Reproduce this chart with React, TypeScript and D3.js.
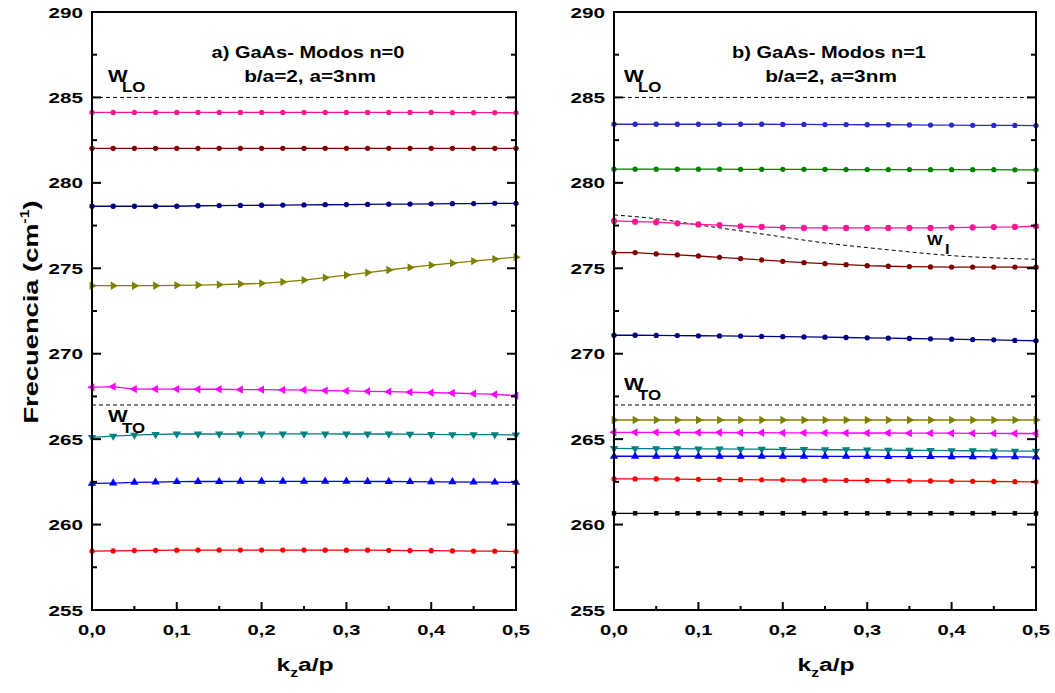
import React from "react";
import * as d3 from "d3";

// ---------- data ----------
const kz = [0, 0.025, 0.05, 0.075, 0.1, 0.125, 0.15, 0.175, 0.2, 0.225, 0.25, 0.275, 0.3, 0.325, 0.35, 0.375, 0.4, 0.425, 0.45, 0.475, 0.5];

// Panel a) n=0
const a_pink = [284.12, 284.12, 284.12, 284.12, 284.12, 284.12, 284.12, 284.12, 284.12, 284.12, 284.12, 284.12, 284.12, 284.12, 284.12, 284.12, 284.12, 284.11, 284.11, 284.11, 284.1];
const a_darkred = [282.02, 282.02, 282.02, 282.02, 282.02, 282.02, 282.02, 282.02, 282.02, 282.02, 282.02, 282.02, 282.02, 282.02, 282.02, 282.02, 282.02, 282.02, 282.02, 282.02, 282.02];
const a_navy = [278.63, 278.63, 278.63, 278.63, 278.63, 278.66, 278.67, 278.68, 278.69, 278.7, 278.71, 278.72, 278.73, 278.74, 278.75, 278.76, 278.77, 278.78, 278.79, 278.8, 278.8];
const a_olive = [273.98, 273.98, 273.98, 273.98, 274.0, 274.02, 274.04, 274.08, 274.12, 274.2, 274.31, 274.45, 274.6, 274.75, 274.9, 275.05, 275.18, 275.3, 275.42, 275.54, 275.65];
const a_magenta = [268.03, 268.07, 267.93, 267.93, 267.93, 267.92, 267.92, 267.9, 267.9, 267.88, 267.88, 267.84, 267.82, 267.8, 267.78, 267.75, 267.72, 267.7, 267.66, 267.62, 267.55];
const a_teal = [265.1, 265.18, 265.24, 265.28, 265.3, 265.3, 265.3, 265.3, 265.31, 265.31, 265.31, 265.31, 265.3, 265.3, 265.3, 265.29, 265.28, 265.27, 265.26, 265.26, 265.25];
const a_blue = [262.41, 262.43, 262.47, 262.49, 262.51, 262.52, 262.52, 262.53, 262.53, 262.53, 262.53, 262.53, 262.53, 262.52, 262.52, 262.51, 262.5, 262.5, 262.49, 262.48, 262.47];
const a_red = [258.44, 258.46, 258.48, 258.49, 258.5, 258.51, 258.51, 258.51, 258.51, 258.51, 258.51, 258.5, 258.5, 258.5, 258.49, 258.48, 258.47, 258.46, 258.45, 258.44, 258.42];

// Panel b) n=1
const b_blue = [283.43, 283.43, 283.43, 283.43, 283.43, 283.43, 283.43, 283.43, 283.42, 283.42, 283.41, 283.41, 283.4, 283.4, 283.39, 283.38, 283.38, 283.37, 283.36, 283.36, 283.35];
const b_green = [280.8, 280.8, 280.8, 280.8, 280.8, 280.8, 280.79, 280.79, 280.79, 280.79, 280.79, 280.78, 280.78, 280.78, 280.78, 280.77, 280.77, 280.77, 280.77, 280.76, 280.76];
const b_pink = [277.77, 277.73, 277.7, 277.63, 277.57, 277.53, 277.46, 277.42, 277.38, 277.36, 277.36, 277.36, 277.36, 277.36, 277.36, 277.36, 277.38, 277.39, 277.41, 277.42, 277.46];
const b_darkred = [275.92, 275.92, 275.84, 275.78, 275.72, 275.64, 275.57, 275.49, 275.41, 275.33, 275.27, 275.21, 275.15, 275.12, 275.1, 275.08, 275.07, 275.07, 275.07, 275.07, 275.06];
const b_navy = [271.08, 271.08, 271.07, 271.06, 271.05, 271.04, 271.03, 271.01, 271.0, 270.98, 270.97, 270.95, 270.93, 270.91, 270.89, 270.87, 270.85, 270.83, 270.81, 270.78, 270.76];
const b_olive = [266.12, 266.12, 266.12, 266.12, 266.12, 266.12, 266.12, 266.12, 266.12, 266.12, 266.12, 266.12, 266.12, 266.12, 266.12, 266.12, 266.12, 266.12, 266.12, 266.12, 266.12];
const b_magenta = [265.4, 265.4, 265.4, 265.4, 265.39, 265.39, 265.38, 265.38, 265.37, 265.37, 265.37, 265.36, 265.36, 265.36, 265.35, 265.35, 265.35, 265.34, 265.34, 265.33, 265.33];
const b_teal = [264.46, 264.44, 264.44, 264.44, 264.43, 264.43, 264.41, 264.41, 264.4, 264.4, 264.38, 264.38, 264.37, 264.36, 264.35, 264.34, 264.33, 264.32, 264.31, 264.3, 264.3];
const b_blue2 = [264.0, 264.0, 264.0, 264.0, 264.0, 264.0, 264.0, 264.0, 264.0, 264.0, 263.99, 263.99, 263.99, 263.98, 263.98, 263.98, 263.97, 263.97, 263.96, 263.96, 263.95];
const b_red = [262.67, 262.67, 262.67, 262.66, 262.65, 262.64, 262.63, 262.62, 262.61, 262.6, 262.6, 262.59, 262.58, 262.57, 262.56, 262.55, 262.54, 262.53, 262.52, 262.51, 262.5];
const b_black = [260.66, 260.66, 260.66, 260.66, 260.66, 260.66, 260.66, 260.66, 260.66, 260.66, 260.66, 260.66, 260.66, 260.66, 260.66, 260.66, 260.66, 260.66, 260.66, 260.66, 260.65];

// w_I dashed curve (panel b)
const kzI = [0, 0.05, 0.1, 0.15, 0.2, 0.25, 0.3, 0.35, 0.4, 0.45, 0.5];
const wI = [278.12, 277.9, 277.54, 277.19, 276.83, 276.48, 276.21, 275.96, 275.74, 275.61, 275.53];

const wLO = 285;
const wTO = 267;

const yTicks = [255, 260, 265, 270, 275, 280, 285, 290];
const yMinor = [257.5, 262.5, 267.5, 272.5, 277.5, 282.5, 287.5];
const xTicks = [0, 0.1, 0.2, 0.3, 0.4, 0.5];
const xTickLabels = ["0,0", "0,1", "0,2", "0,3", "0,4", "0,5"];
const xMinor = [0.05, 0.15, 0.25, 0.35, 0.45];

type Series = { v: number[]; color: string; shape: string; size?: number };

const seriesA: Series[] = [
  { v: a_pink, color: "#ff1493", shape: "circle" },
  { v: a_darkred, color: "#800000", shape: "circle" },
  { v: a_navy, color: "#000080", shape: "circle" },
  { v: a_olive, color: "#808000", shape: "right" },
  { v: a_magenta, color: "#ff00ff", shape: "left" },
  { v: a_teal, color: "#008080", shape: "down" },
  { v: a_blue, color: "#0000ff", shape: "up" },
  { v: a_red, color: "#ff0000", shape: "circle" },
];

const seriesB: Series[] = [
  { v: b_blue, color: "#2a2ac8", shape: "circle" },
  { v: b_green, color: "#008000", shape: "circle" },
  { v: b_pink, color: "#ff1493", shape: "circle", size: 30 },
  { v: b_darkred, color: "#800000", shape: "circle" },
  { v: b_navy, color: "#000080", shape: "circle" },
  { v: b_olive, color: "#808000", shape: "right" },
  { v: b_magenta, color: "#ff00ff", shape: "left" },
  { v: b_teal, color: "#008080", shape: "down" },
  { v: b_blue2, color: "#0000ff", shape: "up" },
  { v: b_red, color: "#ff0000", shape: "circle" },
  { v: b_black, color: "#000000", shape: "square" },
];

const FONT = "'Liberation Sans', Arial, sans-serif";

function T({ x, y, fs, sx = 1, anchor = "start", children }: any) {
  return (
    <text
      transform={`translate(${x},${y}) scale(${sx},1)`}
      fontSize={fs}
      fontWeight="bold"
      fontFamily={FONT}
      textAnchor={anchor}
      fill="#000"
    >
      {children}
    </text>
  );
}

function marker(shape: string, size?: number) {
  if (shape === "circle") return { d: d3.symbol().type(d3.symbolCircle).size(size ?? 22)()!, rot: 0 };
  if (shape === "square") return { d: d3.symbol().type(d3.symbolSquare).size(size ?? 20)()!, rot: 0 };
  const d = d3.symbol().type(d3.symbolTriangle).size(size ?? 30)()!;
  const rot = shape === "up" ? 0 : shape === "right" ? 90 : shape === "down" ? 180 : -90;
  return { d, rot };
}

function Panel({ x0, x1, series, title, sub, extra }: any) {
  const top = 12, bottom = 610;
  const x = d3.scaleLinear().domain([0, 0.5]).range([x0, x1]);
  const y = d3.scaleLinear().domain([255, 290]).range([bottom, top]);
  const line = d3.line<number>().x((_, i) => x(kz[i])).y((d) => y(d));
  return (
    <g>
      {[wLO, wTO].map((w) => (
        <line key={w} x1={x0} x2={x1} y1={y(w)} y2={y(w)} stroke="#000" strokeWidth={1} strokeDasharray="4,3" />
      ))}
      {extra && extra(x, y)}
      {series.map((s: Series, i: number) => {
        const m = marker(s.shape, s.size);
        return (
          <g key={i}>
            <path d={line(s.v)!} fill="none" stroke={s.color} strokeWidth={1.3} />
            {s.v.map((v, j) => (
              <path key={j} d={m.d} transform={`translate(${x(kz[j])},${y(v)}) rotate(${m.rot})`} fill={s.color} />
            ))}
          </g>
        );
      })}
      <rect x={x0} y={top} width={x1 - x0} height={bottom - top} fill="none" stroke="#000" strokeWidth={2} />
      {yTicks.map((t) => (
        <g key={t}>
          <line x1={x0} x2={x0 + 9} y1={y(t)} y2={y(t)} stroke="#000" strokeWidth={2} />
          <line x1={x1} x2={x1 - 9} y1={y(t)} y2={y(t)} stroke="#000" strokeWidth={2} />
          <T x={x0 - 9} y={y(t) + 5.5} fs={15} sx={1.38} anchor="end">{t}</T>
        </g>
      ))}
      {yMinor.map((t) => (
        <g key={t}>
          <line x1={x0} x2={x0 + 5} y1={y(t)} y2={y(t)} stroke="#000" strokeWidth={2} />
          <line x1={x1} x2={x1 - 5} y1={y(t)} y2={y(t)} stroke="#000" strokeWidth={2} />
        </g>
      ))}
      {xTicks.map((t, i) => (
        <g key={t}>
          <line x1={x(t)} x2={x(t)} y1={bottom} y2={bottom - 8} stroke="#000" strokeWidth={2} />
          <T x={x(t)} y={634.5} fs={15.5} sx={1.3} anchor="middle">{xTickLabels[i]}</T>
        </g>
      ))}
      {xMinor.map((t) => (
        <line key={t} x1={x(t)} x2={x(t)} y1={bottom} y2={bottom - 4} stroke="#000" strokeWidth={2} />
      ))}
      <T x={(x0 + x1) / 2 + 4} y={58} fs={16} sx={1.25} anchor="middle">{title}</T>
      <T x={(x0 + x1) / 2 + 6} y={82} fs={16} sx={1.3} anchor="middle">{sub}</T>
      <g transform={`translate(${(x0 + x1) / 2 + 1},671) scale(1.3,1)`}>
        <text fontSize={19} fontWeight="bold" fontFamily={FONT} textAnchor="middle">
          k<tspan fontSize={12} dy={6}>z</tspan><tspan dy={-6}>a/p</tspan>
        </text>
      </g>
    </g>
  );
}

function WLabel({ x, y, sub, dx = 14, dy = 10 }: any) {
  return (
    <g>
      <T x={x} y={y} fs={16} sx={1.3}>W</T>
      <T x={x + dx} y={y + dy} fs={14} sx={1.2}>{sub}</T>
    </g>
  );
}

export default function App() {
  return (
    <svg width={1055} height={693} style={{ position: "absolute", left: 0, top: 0, background: "#fff" }}>
      <Panel x0={92} x1={516} series={seriesA} title="a) GaAs- Modos n=0" sub="b/a=2, a=3nm" />
      <Panel
        x0={614}
        x1={1036}
        series={seriesB}
        title="b) GaAs- Modos n=1"
        sub="b/a=2, a=3nm"
        extra={(x: any, y: any) => (
          <path
            d={d3.line<number>().curve(d3.curveMonotoneX).x((_, i) => x(kzI[i])).y((d) => y(d))(wI)!}
            fill="none"
            stroke="#000"
            strokeWidth={1}
            strokeDasharray="4,3"
          />
        )}
      />
      <WLabel x={108} y={82} sub="LO" />
      <WLabel x={108} y={422} sub="TO" dy={11} />
      <WLabel x={624} y={82} sub="LO" />
      <WLabel x={624} y={390} sub="TO" />
      <T x={927} y={245} fs={15} sx={1.1}>W</T>
      <T x={945} y={254} fs={15} sx={1.1}>I</T>
      <g transform="translate(38,312) rotate(-90) scale(1.3,1)">
        <text fontSize={21} fontWeight="bold" fontFamily={FONT} textAnchor="middle">
          Frecuencia (cm<tspan fontSize={12} dy={-9}>-1</tspan><tspan dy={9}>)</tspan>
        </text>
      </g>
    </svg>
  );
}
